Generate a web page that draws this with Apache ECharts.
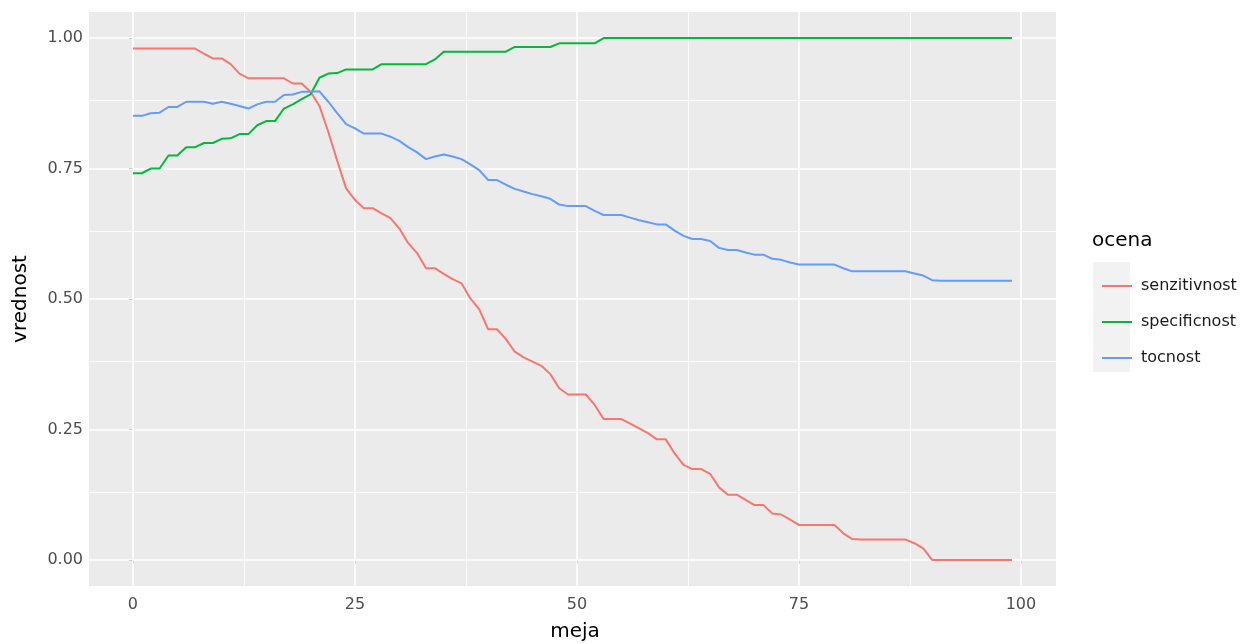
<!DOCTYPE html>
<html><head><meta charset="utf-8">
<script src="https://cdn.jsdelivr.net/npm/echarts@6/dist/echarts.min.js"></script>
<style>html,body{margin:0;padding:0;background:#fff}#c{width:1247px;height:644px}</style>
</head><body><div id="c"></div>
<script>
// threshold values (meja)
const meja = [0,1,2,3,4,5,6,7,8,9,10,11,12,13,14,15,16,17,18,19,
20,21,22,23,24,25,26,27,28,29,30,31,32,33,34,35,36,37,38,39,
40,41,42,43,44,45,46,47,48,49,50,51,52,53,54,55,56,57,58,59,
60,61,62,63,64,65,66,67,68,69,70,71,72,73,74,75,76,77,78,79,
80,81,82,83,84,85,86,87,88,89,90,91,92,93,94,95,96,97,98,99];

const senzitivnost = [0.980,0.980,0.980,0.980,0.980,0.980,0.980,0.980,0.970,0.961,
0.961,0.950,0.932,0.923,0.923,0.923,0.923,0.923,0.913,0.913,
0.897,0.870,0.820,0.765,0.712,0.690,0.674,0.674,0.664,0.655,
0.635,0.607,0.588,0.559,0.559,0.548,0.538,0.530,0.501,0.480,
0.442,0.442,0.423,0.399,0.388,0.380,0.372,0.356,0.329,0.317,
0.317,0.317,0.297,0.270,0.270,0.270,0.261,0.252,0.243,0.231,
0.231,0.204,0.182,0.174,0.174,0.165,0.139,0.125,0.125,0.115,
0.105,0.105,0.089,0.087,0.077,0.067,0.067,0.067,0.067,0.067,
0.051,0.040,0.039,0.039,0.039,0.039,0.039,0.039,0.032,0.022,
0,0,0,0,0,0,0,0,0,0];

const specificnost = [0.741,0.741,0.750,0.750,0.775,0.775,0.791,0.791,0.799,0.799,
0.807,0.808,0.816,0.816,0.833,0.841,0.841,0.865,0.873,0.883,
0.892,0.924,0.932,0.933,0.940,0.940,0.940,0.940,0.950,0.950,
0.950,0.950,0.950,0.950,0.959,0.974,0.974,0.974,0.974,0.974,
0.974,0.974,0.974,0.983,0.983,0.983,0.983,0.983,0.990,0.990,
0.990,0.990,0.990,1,1,1,1,1,1,1,
1,1,1,1,1,1,1,1,1,1,
1,1,1,1,1,1,1,1,1,1,
1,1,1,1,1,1,1,1,1,1,
1,1,1,1,1,1,1,1,1,1];

const tocnost = [0.851,0.851,0.856,0.857,0.868,0.868,0.878,0.878,0.878,0.874,
0.878,0.874,0.870,0.865,0.873,0.878,0.878,0.891,0.892,0.897,
0.897,0.898,0.878,0.856,0.835,0.827,0.817,0.817,0.817,0.811,
0.803,0.791,0.781,0.768,0.773,0.777,0.773,0.768,0.758,0.747,
0.728,0.728,0.719,0.711,0.706,0.701,0.697,0.692,0.681,0.678,
0.678,0.678,0.669,0.661,0.661,0.661,0.656,0.651,0.647,0.643,
0.643,0.631,0.621,0.615,0.615,0.611,0.598,0.594,0.594,0.589,
0.585,0.585,0.577,0.575,0.570,0.566,0.566,0.566,0.566,0.566,
0.559,0.553,0.553,0.553,0.553,0.553,0.553,0.553,0.549,0.545,
0.536,0.535,0.535,0.535,0.535,0.535,0.535,0.535,0.535,0.535];

const seriesNames = ['senzitivnost','specificnost','tocnost'];
const xTicks = [0,25,50,75,100];
const xMinor = [12.5,37.5,62.5,87.5];
const yTicks = [0,0.25,0.5,0.75,1];
const yMinor = [0.125,0.375,0.625,0.875];

const colors = ['#F8766D','#00BA38','#619CFF'];
const FONT = 'DejaVu Sans';
const seriesData = [senzitivnost, specificnost, tocnost];

const chart = echarts.init(document.getElementById('c'), null, {renderer:'canvas'});

const gridLines = [];
xTicks.forEach(v => gridLines.push({xAxis: v, lineStyle:{color:'#FFFFFF', width:1.6, type:'solid'}}));
xMinor.forEach(v => gridLines.push({xAxis: v, lineStyle:{color:'#FFFFFF', width:0.8, type:'solid'}}));
yTicks.forEach(v => gridLines.push({yAxis: v, lineStyle:{color:'#FFFFFF', width:1.6, type:'solid'}}));
yMinor.forEach(v => gridLines.push({yAxis: v, lineStyle:{color:'#FFFFFF', width:0.8, type:'solid'}}));

const series = [{
  type:'line', name:'_grid', data:[], silent:true, z:1,
  markLine:{silent:true, z:1, symbol:['none','none'], label:{show:false}, animation:false,
    emphasis:{disabled:true}, data: gridLines}
}];
seriesNames.forEach((n, i) => {
  series.push({
    type:'line', name:n, z:10,
    data: meja.map((m, j) => [m, seriesData[i][j]]),
    showSymbol:false, symbol:'none',
    lineStyle:{color:colors[i], width:2},
    itemStyle:{color:colors[i]},
    emphasis:{disabled:true}
  });
});

chart.setOption({
  animation:false,
  grid:{left:89, top:12, width:967, height:574, show:true, backgroundColor:'#EBEBEB', borderWidth:0, containLabel:false, outerBoundsMode:'none'},
  xAxis:{type:'value', min:-4.95, max:103.95,
    axisLine:{show:false}, splitLine:{show:false},
    axisTick:{show:true, length:4, lineStyle:{color:'#333333', width:1}, customValues:xTicks},
    axisLabel:{customValues:xTicks, color:'#4D4D4D', fontFamily:FONT, fontSize:16, margin:11}
  },
  yAxis:{type:'value', min:-0.05, max:1.05,
    axisLine:{show:false}, splitLine:{show:false},
    axisTick:{show:true, length:4, lineStyle:{color:'#333333', width:1}, customValues:yTicks},
    axisLabel:{customValues:yTicks, color:'#4D4D4D', fontFamily:FONT, fontSize:16, margin:6,
      formatter: v => v.toFixed(2)}
  },
  legend:{orient:'vertical', left:1097, top:272, itemWidth:30, itemHeight:2, itemGap:18,
    icon:'rect', data:seriesNames,
    textStyle:{fontFamily:FONT, fontSize:16, color:'#1A1A1A', lineHeight:18, padding:[0,0,0,4]}},
  graphic:[
    {type:'rect', shape:{x:1093, y:262, width:37, height:110}, style:{fill:'#F2F2F2'}, z:-1, silent:true},
    {type:'text', x:1092, y:241, style:{text:'ocena', fontFamily:FONT, fontSize:20, fill:'#000000', textVerticalAlign:'middle', textAlign:'left'}},
    {type:'text', x:575, y:632, style:{text:'meja', fontFamily:FONT, fontSize:20, fill:'#000000', textVerticalAlign:'middle', textAlign:'center'}},
    {type:'text', x:21, y:299, rotation:Math.PI/2, style:{text:'vrednost', fontFamily:FONT, fontSize:20, fill:'#000000', textVerticalAlign:'middle', textAlign:'center'}}
  ],
  series: series
});
</script>
</body></html>
